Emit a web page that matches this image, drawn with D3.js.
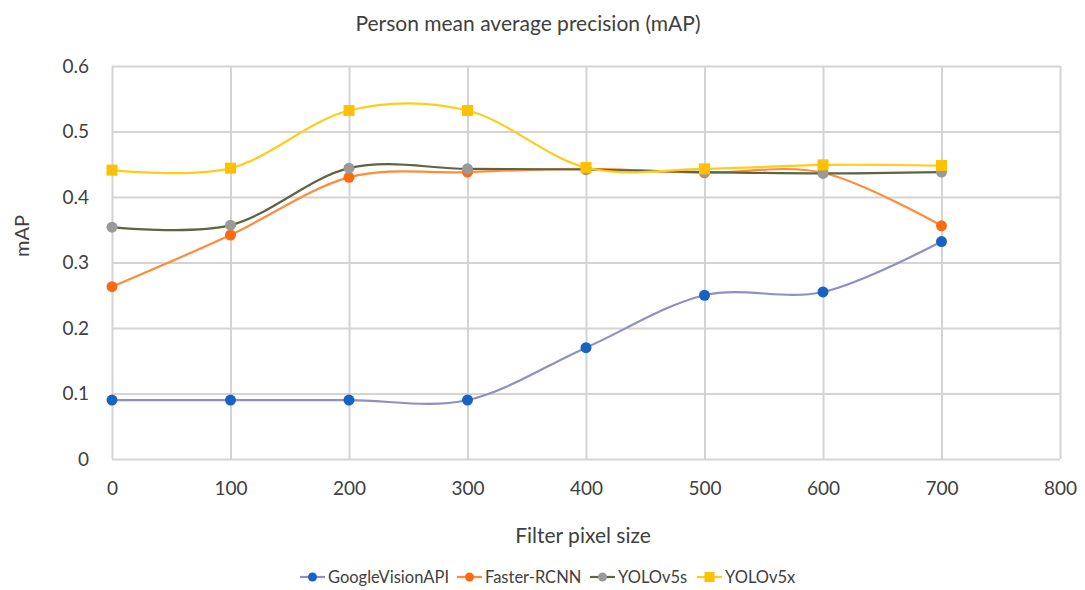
<!DOCTYPE html>
<html>
<head>
<meta charset="utf-8">
<script src="https://cdn.jsdelivr.net/npm/d3@7"></script>
<style>
  body { margin: 0; background: #fff; }
  text { font-family: Lato, "Open Sans", sans-serif; fill: #404040; }
</style>
</head>
<body>
<svg id="chart"></svg>
<script>
var width = 1085;
var height = 590;

var pixelSizes = [0, 100, 200, 300, 400, 500, 600, 700];
var seriesNames = ["GoogleVisionAPI", "Faster-RCNN", "YOLOv5s", "YOLOv5x"];
var googleVision = [0.09, 0.09, 0.09, 0.09, 0.17, 0.25, 0.255, 0.332];
var fasterRcnn = [0.263, 0.342, 0.43, 0.438, 0.443, 0.437, 0.437, 0.356];
var yolo5s = [0.354, 0.357, 0.444, 0.443, 0.442, 0.438, 0.436, 0.438];
var yolo5x = [0.441, 0.444, 0.532, 0.532, 0.445, 0.443, 0.449, 0.448];
var xTicks = [0, 100, 200, 300, 400, 500, 600, 700, 800];
var yTicks = [0, 0.1, 0.2, 0.3, 0.4, 0.5, 0.6];

var lineColors = ["#8d90c4", "#ff8b3d", "#5c6443", "#ffcc1a"];
var markerColors = ["#1763c4", "#ff6a10", "#9a9a9a", "#ffc000"];
var markerShapes = ["circle", "circle", "circle", "square"];

var series = [googleVision, fasterRcnn, yolo5s, yolo5x].map(function(vals, i) {
    return {
        name: seriesNames[i],
        points: vals.map(function(v, j) { return {x: pixelSizes[j], y: v}; })
    };
});

var plotLeft = 112, plotRight = 1060, plotTop = 66, plotBottom = 459;

var xScale = d3.scaleLinear().domain([0, 800]).range([plotLeft, plotRight]);
var yScale = d3.scaleLinear().domain([0, 0.6]).range([plotBottom, plotTop]);

var svg = d3.select("#chart")
    .attr("width", width)
    .attr("height", height);

// gridlines
var xAxis = d3.axisBottom(xScale)
    .tickValues(xTicks)
    .tickSize(-(plotBottom - plotTop))
    .tickSizeOuter(0)
    .tickPadding(23)
    .tickFormat(d3.format("d"));

var yAxis = d3.axisLeft(yScale)
    .tickValues(yTicks)
    .tickSize(-(plotRight - plotLeft))
    .tickSizeOuter(0)
    .tickPadding(23)
    .tickFormat(function(d) { return d === 0 ? "0" : d3.format(".1f")(d); });

var gx = svg.append("g")
    .attr("transform", `translate(0, ${plotBottom})`)
    .call(xAxis);
var gy = svg.append("g")
    .attr("transform", `translate(${plotLeft}, 0)`)
    .call(yAxis);

[gx, gy].forEach(function(g) {
    g.select(".domain").remove();
    g.selectAll(".tick line").attr("stroke", "#d4d4d4").attr("stroke-width", 2);
    g.selectAll(".tick text")
        .style("font-size", "19px")
        .attr("fill", "#404040");
});

// series lines
var line = d3.line()
    .x(function(d) { return xScale(d.x); })
    .y(function(d) { return yScale(d.y); })
    .curve(d3.curveCatmullRom.alpha(0));

var groups = svg.selectAll(".series")
    .data(series)
    .enter()
    .append("g")
    .attr("class", "series");

groups.append("path")
    .attr("d", function(d) { return line(d.points); })
    .attr("fill", "none")
    .attr("stroke", function(d, i) { return lineColors[i]; })
    .attr("stroke-width", 2.2);

groups.each(function(d, i) {
    var g = d3.select(this);
    if (markerShapes[i] === "square") {
        g.selectAll("rect")
            .data(d.points)
            .enter()
            .append("rect")
            .attr("x", function(p) { return xScale(p.x) - 5.5; })
            .attr("y", function(p) { return yScale(p.y) - 5.5; })
            .attr("width", 11)
            .attr("height", 11)
            .attr("fill", markerColors[i]);
    } else {
        g.selectAll("circle")
            .data(d.points)
            .enter()
            .append("circle")
            .attr("cx", function(p) { return xScale(p.x); })
            .attr("cy", function(p) { return yScale(p.y); })
            .attr("r", 5.5)
            .attr("fill", markerColors[i]);
    }
});

// title and axis labels
svg.append("text")
    .attr("x", 528)
    .attr("y", 31)
    .attr("text-anchor", "middle")
    .style("font-size", "21px")
    .text("Person mean average precision (mAP)");

svg.append("text")
    .attr("x", 583)
    .attr("y", 543)
    .attr("text-anchor", "middle")
    .style("font-size", "21px")
    .text("Filter pixel size");

svg.append("text")
    .attr("transform", "translate(29, 236) rotate(-90)")
    .attr("text-anchor", "middle")
    .style("font-size", "20px")
    .text("mAP");

// legend
var legendX = [300, 457, 590, 697];
var legend = svg.selectAll(".legend")
    .data(seriesNames)
    .enter()
    .append("g")
    .attr("class", "legend")
    .attr("transform", function(d, i) { return `translate(${legendX[i]}, 577)`; });

legend.append("line")
    .attr("x1", 0).attr("x2", 25)
    .attr("y1", 0).attr("y2", 0)
    .attr("stroke", function(d, i) { return lineColors[i]; })
    .attr("stroke-width", 2.2);

legend.each(function(d, i) {
    var g = d3.select(this);
    if (markerShapes[i] === "square") {
        g.append("rect").attr("x", 7.5).attr("y", -5).attr("width", 10).attr("height", 10)
            .attr("fill", markerColors[i]);
    } else {
        g.append("circle").attr("cx", 12.5).attr("cy", 0).attr("r", 4.5)
            .attr("fill", markerColors[i]);
    }
});

legend.append("text")
    .attr("x", 28)
    .attr("y", 6)
    .style("font-size", "16.5px")
    .text(function(d) { return d; });
</script>
</body>
</html>
